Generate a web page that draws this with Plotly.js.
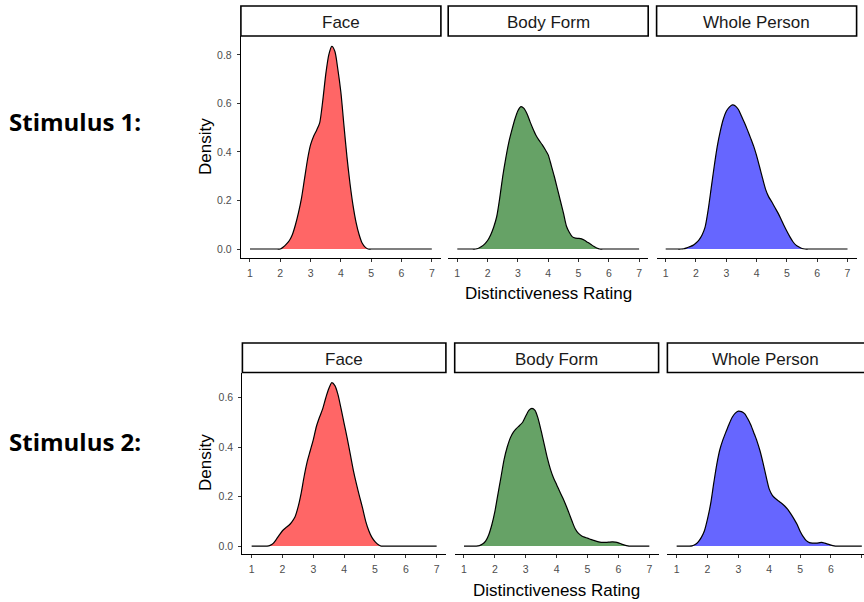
<!DOCTYPE html>
<html>
<head>
<meta charset="utf-8">
<script src="https://cdn.plot.ly/plotly-3.0.1.min.js"></script>
<style>
html,body{margin:0;padding:0;background:#fff;overflow:hidden;}
#chart{width:864px;height:602px;}
</style>
</head>
<body>
<div id="chart"></div>
<script>
// ---- data ----
var ratings = [1.0,1.1,1.2,1.3,1.4,1.5,1.6,1.7,1.8,1.9,
               2.0,2.1,2.2,2.3,2.4,2.5,2.6,2.7,2.8,2.9,
               3.0,3.1,3.2,3.3,3.4,3.5,3.6,3.7,3.8,3.9,
               4.0,4.1,4.2,4.3,4.4,4.5,4.6,4.7,4.8,4.9,
               5.0,5.1,5.2,5.3,5.4,5.5,5.6,5.7,5.8,5.9,
               6.0,6.1,6.2,6.3,6.4,6.5,6.6,6.7,6.8,6.9,7.0];

var faceS1 = [0,0,0,0,0,0,0,0,0,0,
              0,0.008,0.02,0.035,0.06,0.10,0.15,0.21,0.29,0.37,
              0.43,0.465,0.49,0.52,0.61,0.72,0.80,0.835,0.815,0.74,
              0.645,0.51,0.38,0.27,0.18,0.11,0.06,0.025,0.008,0,
              0,0,0,0,0,0,0,0,0,0,
              0,0,0,0,0,0,0,0,0,0,0];
var bodyS1 = [0,0,0,0,0,0,0,0.003,0.01,0.02,
              0.035,0.058,0.09,0.133,0.21,0.30,0.375,0.44,0.49,0.535,
              0.57,0.587,0.58,0.558,0.525,0.495,0.468,0.448,0.43,0.41,
              0.388,0.345,0.30,0.25,0.20,0.15,0.095,0.068,0.05,0.045,
              0.044,0.042,0.036,0.028,0.02,0.011,0.004,0,0,0,
              0,0,0,0,0,0,0,0,0,0,0];
var wholeS1 = [0,0,0,0,0,0,0.001,0.005,0.01,0.015,
               0.025,0.038,0.058,0.09,0.16,0.25,0.34,0.422,0.485,0.535,
               0.568,0.585,0.594,0.59,0.575,0.548,0.52,0.49,0.458,0.425,
               0.385,0.338,0.29,0.245,0.215,0.195,0.172,0.15,0.125,0.098,
               0.073,0.05,0.03,0.016,0.008,0.002,0,0,0,0,
               0,0,0,0,0,0,0,0,0,0,0];
var faceS2 = [0,0,0,0,0,0,0.003,0.011,0.027,0.045,
              0.062,0.073,0.083,0.097,0.116,0.155,0.21,0.28,0.34,0.385,
              0.43,0.483,0.52,0.553,0.597,0.635,0.66,0.648,0.612,0.555,
              0.495,0.435,0.37,0.305,0.25,0.20,0.152,0.10,0.062,0.035,
              0.018,0.006,0,0,0,0,0,0,0,0,
              0,0,0,0,0,0,0,0,0,0,0];
var bodyS2 = [0,0,0,0,0,0.002,0.008,0.02,0.045,0.085,
              0.139,0.21,0.28,0.35,0.40,0.437,0.46,0.475,0.487,0.50,
              0.525,0.548,0.556,0.548,0.515,0.465,0.41,0.355,0.31,0.275,
              0.248,0.22,0.194,0.165,0.133,0.10,0.07,0.052,0.042,0.036,
              0.032,0.027,0.023,0.019,0.016,0.015,0.015,0.016,0.017,0.016,
              0.013,0.008,0.004,0.001,0,0,0,0,0,0,0];
var wholeS2 = [0,0,0,0,0,0.001,0.006,0.017,0.035,0.062,
               0.11,0.17,0.253,0.33,0.39,0.43,0.462,0.493,0.52,0.537,
               0.545,0.543,0.535,0.515,0.49,0.458,0.425,0.385,0.335,0.28,
               0.23,0.205,0.192,0.182,0.173,0.162,0.148,0.13,0.11,0.088,
               0.06,0.038,0.022,0.014,0.012,0.012,0.013,0.015,0.012,0.008,
               0.004,0.001,0,0,0,0,0,0,0,0,0];

var panelNames = ["Face", "Body Form", "Whole Person"];
var rowLabels = ["Stimulus 1:", "Stimulus 2:"];
var xTitle = "Distinctiveness Rating";
var yTitle = "Density";
var xTicks = [1,2,3,4,5,6,7];
var yTicksS1 = [0,0.2,0.4,0.6,0.8];
var yTicksS2 = [0,0.2,0.4,0.6];

var fills = ["#FF6666", "#66A266", "#6666FF"];
var series = [[faceS1, bodyS1, wholeS1], [faceS2, bodyS2, wholeS2]];
var yTicks = [yTicksS1, yTicksS2];

// ---- layout geometry (pixels) ----
var W = 864, H = 602;
function px(x){ return x / W; }
function py(y){ return 1 - y / H; }

var rows = [
  { top: 36, bottom: 258, stripTop: 6, stripBot: 36, yr: [-0.037, 0.878],
    panels: [[240.9, 440.9, [0.7, 7.3]], [448.2, 648.2, [0.7, 7.3]], [656.6, 856.6, [0.7, 7.3]]],
    densY: 147, xtitleY: 293, xtitleX: 548, stimY: 121 },
  { top: 372.5, bottom: 554, stripTop: 343, stripBot: 372.5, yr: [-0.032, 0.701],
    panels: [[242.4, 445.9, [0.7, 7.3]], [454.7, 658.6, [0.7, 7.3]], [667.4, 864, [0.7, 7.07]]],
    densY: 463, xtitleY: 590, xtitleX: 556.5, stimY: 441 }
];

var data = [];
var layout = {
  width: W, height: H,
  margin: {l:0, r:0, t:0, b:0},
  paper_bgcolor: "#fff", plot_bgcolor: "rgba(0,0,0,0)",
  showlegend: false,
  font: {family: "Liberation Sans, Arial, sans-serif", color: "#000"},
  shapes: [], annotations: []
};

var tickFont = {family: "Liberation Sans, Arial, sans-serif", size: 10.5, color: "#4D4D4D"};
var n = 0;
for (var r = 0; r < 2; r++) {
  var R = rows[r];
  for (var p = 0; p < 3; p++) {
    n++;
    var P = R.panels[p];
    var xa = "xaxis" + (n === 1 ? "" : n), ya = "yaxis" + (n === 1 ? "" : n);
    var xs = "x" + (n === 1 ? "" : n), ys = "y" + (n === 1 ? "" : n);
    data.push({
      type: "scatter", mode: "lines",
      x: ratings, y: series[r][p],
      xaxis: xs, yaxis: ys,
      fill: "tozeroy", fillcolor: fills[p],
      line: {color: "#000", width: 1.2, shape: "spline", smoothing: 0.7},
      hoverinfo: "skip"
    });
    layout[xa] = {
      domain: [px(P[0]), px(P[1])], range: P[2], anchor: ys,
      tickvals: xTicks, ticks: "outside", ticklen: 3, tickwidth: 1, tickcolor: "#333",
      tickfont: tickFont, showline: true, linecolor: "#000", linewidth: 1.1,
      ticklabelstandoff: 2,
      showgrid: false, zeroline: false, fixedrange: true
    };
    var yaxis = {
      domain: [py(R.bottom), py(R.top)], range: R.yr, anchor: xs,
      showgrid: false, zeroline: false, fixedrange: true
    };
    if (p === 0) {
      yaxis.tickvals = yTicks[r];
      yaxis.tickformat = ".1f";
      yaxis.ticks = "outside"; yaxis.ticklen = 3; yaxis.tickwidth = 1; yaxis.tickcolor = "#333";
      yaxis.tickfont = tickFont; yaxis.showline = true; yaxis.linecolor = "#000"; yaxis.linewidth = 1.1;
      yaxis.ticklabelstandoff = 3;
    } else {
      yaxis.showticklabels = false; yaxis.ticks = ""; yaxis.showline = false;
    }
    layout[ya] = yaxis;

    // strip
    var sx1 = (r === 1 && p === 2) ? 872 : P[1];
    layout.shapes.push({
      type: "rect", xref: "paper", yref: "paper",
      x0: px(P[0]), x1: px(sx1), y0: py(R.stripBot), y1: py(R.stripTop),
      fillcolor: "#fff", line: {color: "#000", width: 1.6}
    });
    layout.annotations.push({
      xref: "paper", yref: "paper", x: px((P[0] + P[1]) / 2), y: py((R.stripTop + R.stripBot) / 2 + 2),
      text: panelNames[p], showarrow: false, xanchor: "center", yanchor: "middle",
      font: {size: 17, color: "#1A1A1A"}
    });
  }
  layout.annotations.push({
    xref: "paper", yref: "paper", x: px(205), y: py(R.densY), text: yTitle, textangle: -90,
    showarrow: false, xanchor: "center", yanchor: "middle", font: {size: 17, color: "#000"}
  });
  layout.annotations.push({
    xref: "paper", yref: "paper", x: px(R.xtitleX), y: py(R.xtitleY), text: xTitle,
    showarrow: false, xanchor: "center", yanchor: "middle", font: {size: 17, color: "#000"}
  });
  layout.annotations.push({
    xref: "paper", yref: "paper", x: px(7), y: py(R.stimY), text: "<b>" + rowLabels[r] + "</b>",
    showarrow: false, xanchor: "left", yanchor: "middle",
    font: {family: "Open Sans, Noto Sans, sans-serif", size: 24, color: "#000"}
  });
}

Plotly.newPlot("chart", data, layout, {staticPlot: true, displayModeBar: false});
</script>
</body>
</html>
